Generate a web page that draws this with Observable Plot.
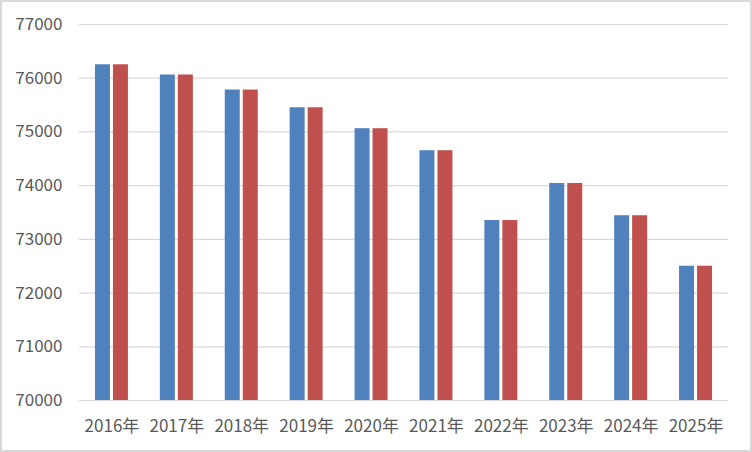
<!DOCTYPE html>
<html>
<head>
<meta charset="utf-8">
<script src="https://cdn.jsdelivr.net/npm/d3@7"></script>
<script src="https://cdn.jsdelivr.net/npm/@observablehq/plot@0.6"></script>
<style>
  html, body { margin: 0; padding: 0; background: #fff; }
  #chart svg { display: block; outline: 2px solid #d9d9d9; outline-offset: -2px; }
</style>
</head>
<body>
<div id="chart"></div>
<script>
const years = ["2016年","2017年","2018年","2019年","2020年","2021年","2022年","2023年","2024年","2025年"];
const seriesA = [76250, 76060, 75780, 75450, 75060, 74650, 73350, 74040, 73440, 72500];
const seriesB = [76250, 76060, 75780, 75450, 75060, 74650, 73350, 74040, 73440, 72500];
const yTicks = [70000, 71000, 72000, 73000, 74000, 75000, 76000, 77000];

const dataA = years.map((y, i) => ({year: y, value: seriesA[i]}));
const dataB = years.map((y, i) => ({year: y, value: seriesB[i]}));

const chart = Plot.plot({
  width: 752,
  height: 452,
  marginLeft: 79,
  marginRight: 24,
  marginTop: 24,
  marginBottom: 52,
  style: {fontFamily: "'Noto Sans CJK SC', 'Noto Sans', sans-serif", fontSize: "17px", color: "#595959", background: "#fff"},
  x: {domain: years, paddingInner: 0.769, paddingOuter: 0.3845, round: false, label: null, tickSize: 0, tickPadding: 19},
  y: {domain: [70000, 77000], ticks: yTicks, tickFormat: d3.format("d"), label: null, tickSize: 0, tickPadding: 17},
  marks: [
    Plot.ruleY(yTicks, {stroke: "#d9d9d9", strokeWidth: 1.2}),
    Plot.barY(dataA, {x: "year", y1: 70000, y2: "value", fill: "#4f81bd", dx: -9}),
    Plot.barY(dataB, {x: "year", y1: 70000, y2: "value", fill: "#c0504d", dx: 9}),
    Plot.ruleY([70000], {stroke: "#d9d9d9", strokeWidth: 1.2})
  ]
});
document.getElementById("chart").appendChild(chart);
</script>
</body>
</html>
